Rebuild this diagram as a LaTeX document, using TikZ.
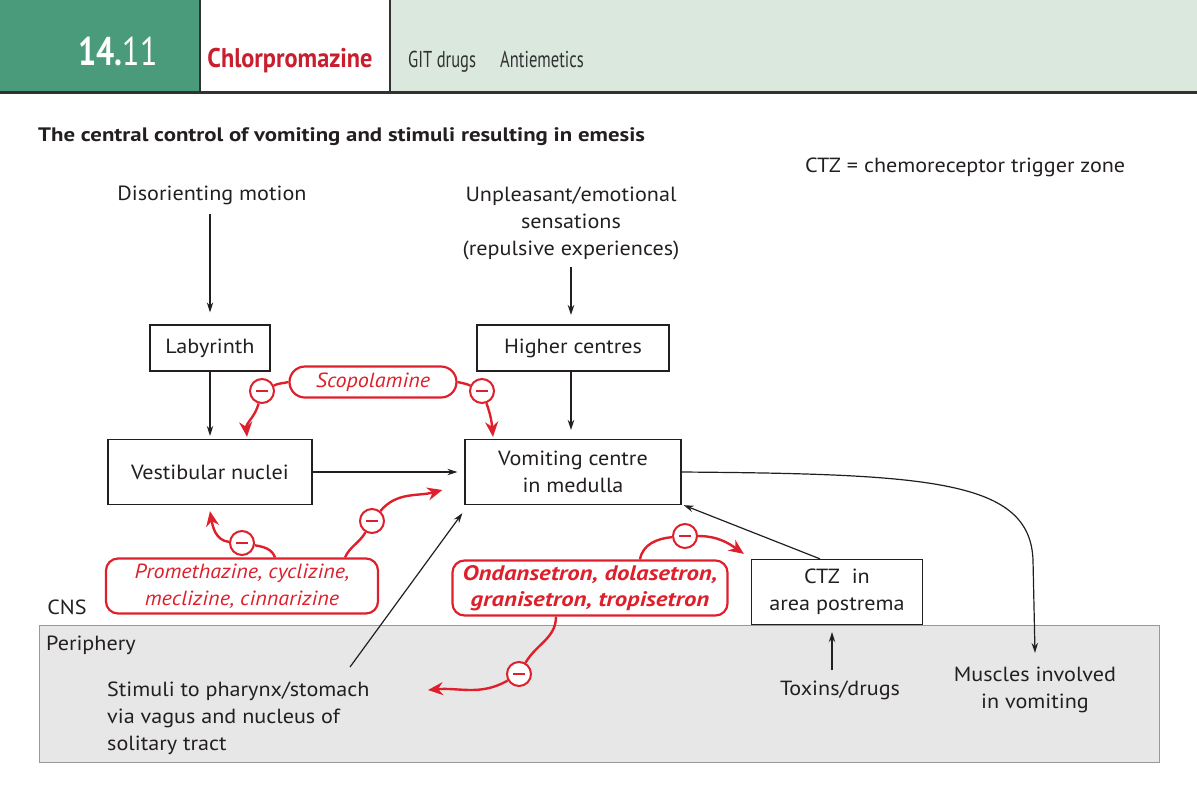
\documentclass[tikz,border=0pt]{standalone}
\usepackage{fontspec}
\setmainfont[FakeStretch=1.08]{PT Sans}
\newfontfamily\condfont[FakeStretch=0.8]{PT Sans}
\newfontfamily\narrowfont[FakeStretch=0.72]{PT Sans}
\newfontfamily\redheadfont[FakeStretch=0.9]{PT Sans}
\newfontfamily\titlefont[FakeStretch=1.17]{PT Sans}
\newfontfamily\strongfont[FakeStretch=1.18]{PT Sans}
\usetikzlibrary{arrows.meta,calc}
\definecolor{hdgreen}{RGB}{74,154,124}
\definecolor{hdlight}{RGB}{218,232,222}
\definecolor{drugred}{RGB}{222,32,44}
\definecolor{titlered}{RGB}{200,30,45}
\definecolor{ink}{RGB}{35,31,32}
\definecolor{perigray}{RGB}{231,231,231}
\definecolor{hdline}{RGB}{50,50,50}
\newcommand{\bodyfont}{\fontsize{20.5}{27}\selectfont}
\tikzset{
  txt/.style={font=\bodyfont, text=ink, align=center, inner sep=0pt},
  box/.style={draw=ink, line width=1.3pt, fill=white, inner sep=0pt, font=\bodyfont, text=ink, align=center},
  arr/.style={draw=ink, line width=1.2pt, -{Stealth[length=10pt,width=6.5pt]}},
  drug/.style={draw=drugred, line width=2.2pt, fill=white, inner sep=0pt, font=\bodyfont\itshape, text=drugred, align=center, rounded corners=12pt},
  inh/.style={circle, draw=drugred, line width=2pt, fill=white, minimum size=24pt, inner sep=0pt,
    path picture={\draw[drugred, line width=1.6pt] ([xshift=-6pt]path picture bounding box.center) -- ([xshift=6pt]path picture bounding box.center);}},
  redline/.style={draw=drugred, line width=2.4pt},
  redarr/.style={redline, -{Stealth[length=15pt,width=13pt]}},
}
\begin{document}
\begin{tikzpicture}[x=1pt,y=1pt]
\useasboundingbox (0,0) rectangle (1197,-804);

% header band
\fill[hdgreen] (0,0) rectangle (200,-93);
\fill[white] (200,0) rectangle (390,-93);
\fill[hdlight] (390,0) rectangle (1197,-93);
\draw[hdline, line width=2pt] (200,0) -- (200,-93) (390,0) -- (390,-93);
\draw[hdline, line width=3pt] (0,-92) -- (1197,-92);
\node[anchor=base, text=white, inner sep=0pt, font=\condfont\fontsize{40}{40}\selectfont] (num) at (118,-65) {\bfseries 14.\mdseries 11};
\node[anchor=base, text=titlered, inner sep=0pt, font=\redheadfont\bfseries\fontsize{27}{27}\selectfont] (drugname) at (290,-67) {Chlorpromazine};
\node[anchor=base west, text=hdline, inner sep=0pt, font=\narrowfont\fontsize{23}{23}\selectfont] (sec1) at (408,-67) {GIT drugs};
\node[anchor=base west, text=hdline, inner sep=0pt, font=\narrowfont\fontsize{23}{23}\selectfont] (sec2) at (500,-67) {Antiemetics};

% titles
\node[anchor=west, txt, font=\titlefont\bfseries\fontsize{19.5}{24}\selectfont] (title) at (38,-137) {The central control of vomiting and stimuli resulting in emesis};
\node[anchor=west, txt] (abbr) at (805,-167) {CTZ = chemoreceptor trigger zone};

% periphery region
\draw[fill=perigray, draw=gray!80, line width=1pt] (39,-625) rectangle (1159,-762);
\node[txt] (cns) at (67,-607) {CNS};
\node[txt, anchor=west] (peri) at (46,-645) {Periphery};

% stimuli and boxes
\node[txt] (dis) at (212,-195) {Disorienting motion};
\node[txt] (unp) at (571,-223) {Unpleasant/emotional\\sensations\\(repulsive experiences)};
\node[box, minimum width=120pt, minimum height=46pt] (lab) at (210,-348) {Labyrinth};
\node[box, minimum width=192pt, minimum height=46pt] (hc) at (573,-348) {Higher centres};
\node[box, minimum width=204pt, minimum height=65pt] (vest) at (210,-472) {Vestibular nuclei};
\node[box, minimum width=216pt, minimum height=65pt] (vc) at (573,-472) {Vomiting centre\\in medulla};
\node[box, minimum width=171pt, minimum height=65pt] (ctz) at (837,-592) {CTZ\ \ in\\area postrema};
\node[txt] (tox) at (840,-690) {Toxins/drugs};
\node[txt] (mus) at (1035,-690) {Muscles involved\\in vomiting};
\node[txt, anchor=west, align=left] (sti) at (107,-718) {Stimuli to pharynx/stomach\\via vagus and nucleus of\\solitary tract};
\coordinate (stiTop) at (350,-667);
\coordinate (stiIn) at (428,-690);

% excitatory pathways
\draw[arr, shorten <=9pt, shorten >=12pt] (dis.south -| lab.north) -- (lab.north);
\draw[arr, shorten >=3pt] (lab.south) -- (vest.north);
\draw[arr, shorten <=7pt, shorten >=10pt] (unp.south -| 571,0) -- (571,-325);
\draw[arr, shorten >=10pt] (hc.south -| 571,0) -- (571,-440);
\draw[arr, shorten >=7pt] (vest.east) -- (vc.west);
\draw[arr] ([xshift=-17pt]ctz.north) -- ([xshift=2pt]vc.south east);
\draw[arr, shorten >=7pt] ([xshift=-8pt,yshift=10pt]tox.north) -- ([xshift=-5pt]ctz.south);
\draw[arr] (stiTop) -- ($(vc.south west)+(-2,-8)$);
\draw[arr] (vc.east) .. controls (930,-474) and (1030,-480) .. (1033,-560) -- ([yshift=14pt]mus.north -| 1035,0);

% drugs and their inhibitory sites
\node[drug, minimum width=167pt, minimum height=31pt, rounded corners=15.5pt] (sco) at (373,-382) {Scopolamine};
\node[inh] (m1) at (262,-391) {};
\node[inh] (m2) at (482,-391) {};
\draw[redline] (sco.west) to[out=195,in=25] (m1);
\draw[redarr] (m1) to[out=-105,in=95] ([xshift=37pt,yshift=2pt]vest.north);
\draw[redline] (sco.east) to[out=-15,in=155] (m2);
\draw[redarr] (m2) to[out=-70,in=95] ([xshift=-80pt,yshift=2pt]vc.north);

\node[drug, minimum width=272pt, minimum height=55pt] (prom) at (242,-586) {Promethazine, cyclizine,\\meclizine, cinnarizine};
\node[inh] (m3) at (242,-543) {};
\node[inh] (m4) at (372,-521) {};
\draw[redline] ([xshift=33pt]prom.north) to[out=110,in=-10] (m3);
\draw[redarr] (m3) to[out=175,in=-80] ([yshift=-6pt]vest.south);
\draw[redline] ([xshift=103pt]prom.north) to[out=65,in=-120] (m4);
\draw[redarr] (m4) to[out=50,in=-165] ($(vc.west)+(-22,-18)$);

\node[drug, minimum width=275pt, minimum height=55pt, font=\strongfont\bfseries\itshape\fontsize{21}{26}\selectfont] (ond) at (590,-588) {Ondansetron, dolasetron,\\granisetron, tropisetron};
\node[inh] (m5) at (685,-536) {};
\node[inh] (m6) at (519,-674) {};
\draw[redline] ([xshift=50pt]ond.north) to[out=80,in=185] (m5);
\draw[redarr] (m5) to[out=0,in=145] ([xshift=-7pt,yshift=5pt]ctz.north west);
\draw[redline] ([xshift=-34pt]ond.south) to[out=-90,in=60] (m6);
\draw[redarr] (m6) to[out=-150,in=5] (stiIn);
\end{tikzpicture}
\end{document}
